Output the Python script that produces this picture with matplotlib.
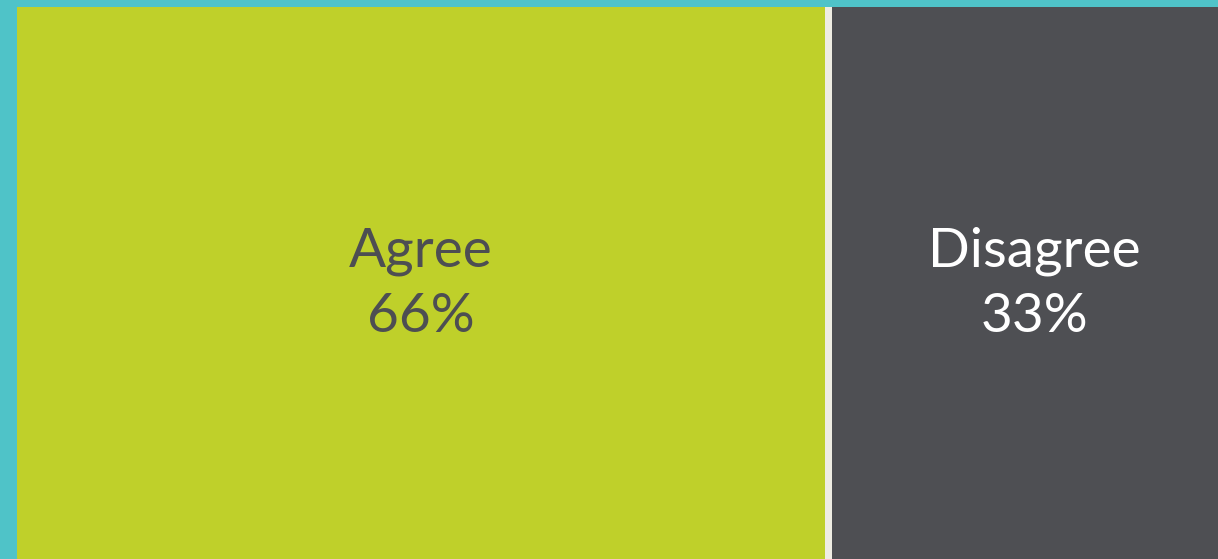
import matplotlib
matplotlib.use("Agg")
import matplotlib.pyplot as plt

categories = ["Agree", "Disagree"]
values = [66, 33]
labels = ["66%", "33%"]

colors = ["#BFD02A", "#4E4F53"]
text_colors = ["#4D4E52", "#FFFFFF"]

W, H = 1218, 559
fig = plt.figure(figsize=(W / 100, H / 100), dpi=100)
fig.patch.set_facecolor("#4FC3C8")

ax = fig.add_axes([17 / W, 0, (W - 17) / W, (H - 7) / H])
ax.set_facecolor("#EFEDE3")

px_per_unit = 808 / values[0]
gap = 7 / px_per_unit
ax.set_xlim(0, (W - 17) / px_per_unit)
ax.set_ylim(0, 1)
ax.axis("off")
ax.add_patch(plt.Rectangle((0, 0), 1, 1, transform=ax.transAxes,
                           facecolor="#EFEDE3", zorder=0))

left = 0
for cat, v, lab, c, tc in zip(categories, values, labels, colors, text_colors):
    ax.bar(left, 1, width=v, bottom=0, align="edge", color=c, zorder=1,
           linewidth=0)
    ax.text(left + v / 2, 0.5 - 0.002, f"{cat}\n{lab}", ha="center", va="center",
            color=tc, fontsize=39.5, family=["Lato", "DejaVu Sans"],
            linespacing=1.4, zorder=2)
    left += v + gap

fig.savefig("out.png", dpi=100, facecolor=fig.get_facecolor())
